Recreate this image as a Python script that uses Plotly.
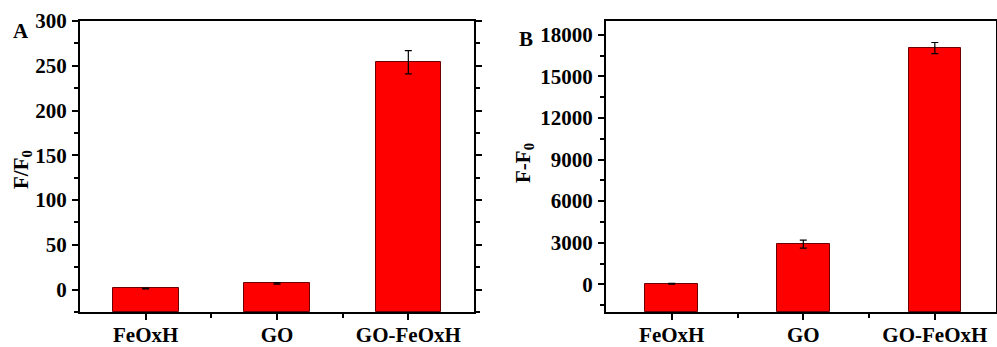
import plotly.graph_objects as go

categories = ["FeOxH", "GO", "GO-FeOxH"]
a_values = [1.3, 7.0, 254.0]
a_errors = [0.5, 0.8, 13.0]
b_values = [40, 2900, 17050]
b_errors = [30, 290, 400]
a_yticks = [0, 50, 100, 150, 200, 250, 300]
b_yticks = [0, 3000, 6000, 9000, 12000, 15000, 18000]
a_range = [-25, 300]
b_range = [-2000, 19000]

W, H = 997, 347
FONT = "Liberation Serif"

def px(x):
    return x / W

def py(y):
    return (H - y) / H

fig = go.Figure()
bar_marker = dict(color="#ff0000", line=dict(color="#6a0000", width=1))
err = lambda arr: dict(type="data", array=arr, color="black", thickness=1.2, width=3.5)

# bars drawn from the bottom of the axis, as in the original software
fig.add_trace(go.Bar(x=categories, y=[v - a_range[0] for v in a_values], base=[a_range[0]] * 3,
                     width=0.5, marker=bar_marker, xaxis="x", yaxis="y", showlegend=False))
fig.add_trace(go.Scatter(x=categories, y=a_values, mode="markers", marker=dict(size=1, opacity=0),
                         error_y=err(a_errors), xaxis="x", yaxis="y", showlegend=False))
fig.add_trace(go.Bar(x=categories, y=[v - b_range[0] for v in b_values], base=[b_range[0]] * 3,
                     width=0.4, marker=bar_marker, xaxis="x2", yaxis="y2", showlegend=False))
fig.add_trace(go.Scatter(x=categories, y=b_values, mode="markers", marker=dict(size=1, opacity=0),
                         error_y=err(b_errors), xaxis="x2", yaxis="y2", showlegend=False))

tickfont = dict(family=FONT, size=21, color="black", weight="bold")
common_x = dict(showline=True, linecolor="black", linewidth=2, mirror=True,
                ticks="outside", ticklen=6, tickwidth=1.5, tickcolor="black",
                tickfont=tickfont, showgrid=False, zeroline=False, automargin=False,
                ticklabelstandoff=-3,
                minor=dict(ticks="outside", ticklen=4, tickwidth=1.5, tickcolor="black",
                           tickvals=[0.5, 1.5]))
common_y = dict(showline=True, linecolor="black", linewidth=2, mirror="ticks",
                ticks="outside", ticklen=6, tickwidth=1.5, tickcolor="black",
                tickfont=tickfont, showgrid=False, zeroline=False, automargin=False,
                tickformat="d", ticklabelstandoff=1)

dom_y = [py(312), py(21)]
ann_font = dict(family=FONT, size=21, color="black")
fig.update_layout(
    width=W, height=H, margin=dict(l=0, r=0, t=0, b=0),
    plot_bgcolor="white", paper_bgcolor="white", template="none", bargap=0,
    xaxis=dict(common_x, domain=[px(80), px(474)], range=[-0.5, 2.5], anchor="y"),
    yaxis=dict(common_y, domain=dom_y, range=a_range, tickvals=a_yticks, anchor="x",
               minor=dict(ticks="outside", ticklen=4, tickwidth=1.5, tickcolor="black", dtick=25, tick0=0)),
    xaxis2=dict(common_x, domain=[px(606), px(996)], range=[-0.5, 2.465], anchor="y2"),
    yaxis2=dict(common_y, domain=dom_y, range=b_range, tickvals=b_yticks, anchor="x2",
                minor=dict(ticks="outside", ticklen=4, tickwidth=1.5, tickcolor="black", dtick=1500, tick0=0)),
    annotations=[
        dict(text="<b>A</b>", x=px(21), y=py(31), xref="paper", yref="paper", showarrow=False,
             xanchor="center", yanchor="middle", font=ann_font),
        dict(text="<b>B</b>", x=px(526), y=py(39), xref="paper", yref="paper", showarrow=False,
             xanchor="center", yanchor="middle", font=ann_font),
        dict(text="<b>F/F<sub>0</sub></b>", x=px(22), y=py(170), xref="paper", yref="paper",
             showarrow=False, textangle=-90, xanchor="center", yanchor="middle", font=ann_font),
        dict(text="<b>F-F<sub>0</sub></b>", x=px(524), y=py(163), xref="paper", yref="paper",
             showarrow=False, textangle=-90, xanchor="center", yanchor="middle", font=ann_font),
    ],
)

fig.write_html("out.html")
